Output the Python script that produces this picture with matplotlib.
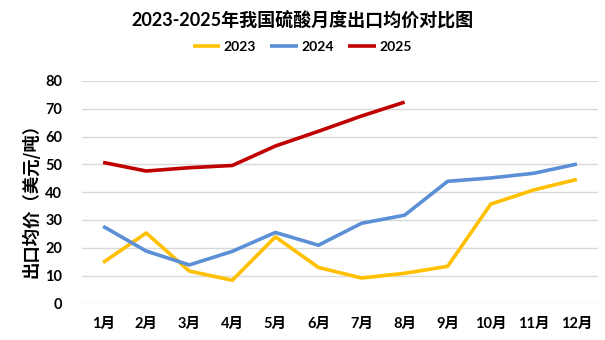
import matplotlib
matplotlib.use("Agg")
import matplotlib.pyplot as plt

months = ["1月", "2月", "3月", "4月", "5月", "6月", "7月", "8月", "9月", "10月", "11月", "12月"]
y2023 = [14.7, 25.3, 11.6, 8.3, 23.9, 12.9, 9.1, 10.8, 13.3, 35.7, 40.8, 44.6]
y2024 = [27.7, 18.8, 13.8, 18.7, 25.5, 20.9, 28.8, 31.7, 43.9, 45.1, 46.8, 50.1]
y2025 = [50.7, 47.6, 48.8, 49.6, 56.6, 61.9, 67.4, 72.4]
yticks = [0, 10, 20, 30, 40, 50, 60, 70, 80]
series = [("2023", y2023, "#FFC000"), ("2024", y2024, "#5B8FD6"), ("2025", y2025, "#C00000")]

plt.rcParams['font.family'] = ['Lato', 'Noto Sans CJK SC', 'DejaVu Sans']

W, H = 605, 340
fig = plt.figure(figsize=(W / 100, H / 100), dpi=100)
ax = fig.add_axes([81.6 / W, 1 - 303.3 / H, (598.4 - 81.6) / W, (303.3 - 81) / H])

x = list(range(len(months)))
handles = []
for name, vals, col in series:
    h, = ax.plot(x[:len(vals)], vals, color=col, lw=2.6, solid_capstyle='butt', label=name)
    handles.append(h)

ax.set_xlim(-0.5, len(months) - 0.5)
ax.set_ylim(0, 80)
ax.set_yticks(yticks)
ax.set_yticklabels([str(v) for v in yticks], fontsize=10.5, fontweight='bold')
ax.set_xticks(x)
ax.set_xticklabels(months, fontsize=10.5, fontweight='bold',
                   family=['Lato', 'Noto Sans CJK SC'])
ax.tick_params(length=0)
ax.tick_params(axis='y', pad=14)
ax.tick_params(axis='x', pad=10)
ax.grid(axis='y', color='#D9D9D9', lw=1)
ax.set_axisbelow(True)
for s in ax.spines.values():
    s.set_visible(False)

fig.text(0.5, 1 - 20 / H, "2023-2025年我国硫酸月度出口均价对比图", ha='center', va='center',
         fontsize=13, fontweight='bold', family=['Lato', 'Noto Sans CJK SC'])
fig.text(31 / W, 1 - 196 / H, "出口均价（美元/吨）", rotation=90, ha='center', va='center',
         fontsize=12.5, family=['Noto Sans CJK SC'], fontweight='bold')

leg = fig.legend(handles=handles, loc='center', bbox_to_anchor=(302 / W, 1 - 47 / H), ncol=3,
                 frameon=False, prop={'weight': 'bold', 'size': 10}, handlelength=2.0,
                 handletextpad=0.25, columnspacing=1.0)

fig.savefig("out.png", dpi=100)
